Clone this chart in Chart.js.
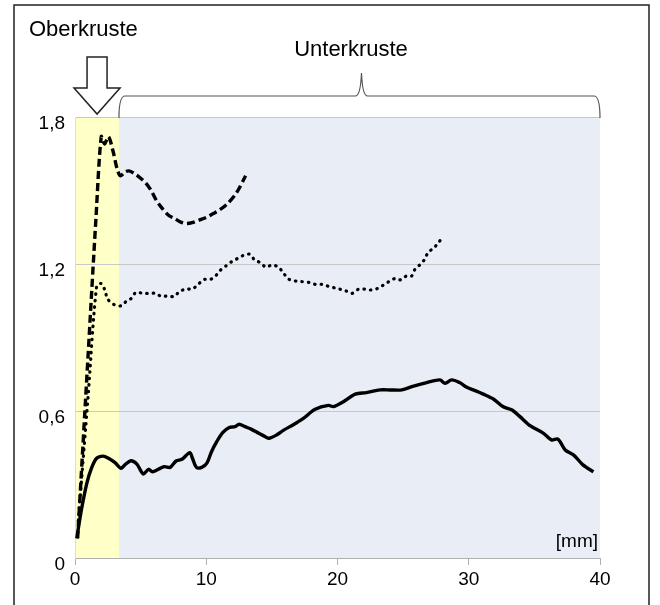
<!DOCTYPE html>
<html>
<head>
<meta charset="utf-8">
<title>Oberkruste / Unterkruste</title>
<script src="https://cdn.jsdelivr.net/npm/chart.js@4.4.1/dist/chart.umd.min.js"></script>
<style>
  html, body { margin: 0; padding: 0; background: #fff; }
  #wrap { position: relative; width: 660px; height: 605px; }
</style>
</head>
<body>
<div id="wrap"><canvas id="crust-chart"></canvas></div>
<script>
// Values (x in mm)
const xTickLabels = ['0', '10', '20', '30', '40'];
const yTickLabels = ['0', '0,6', '1,2', '1,8'];

// dashed curve
const dashedX = [0.2, 1.0, 1.6, 2.0, 2.25, 2.55, 2.9, 3.2, 3.45, 3.8, 4.1, 4.5, 5.0, 5.4, 5.8, 6.2, 6.6, 7.1, 7.6, 8.1, 8.5, 9.0, 9.5, 10.0, 10.5, 11.0, 11.6, 12.3, 13.0];
const dashedY = [0.08, 0.83, 1.39, 1.72, 1.69, 1.72, 1.66, 1.59, 1.56, 1.575, 1.58, 1.57, 1.55, 1.53, 1.50, 1.46, 1.43, 1.40, 1.385, 1.37, 1.365, 1.37, 1.38, 1.39, 1.405, 1.42, 1.445, 1.49, 1.56];

// dotted curve
const dottedX = [0.25, 1.0, 1.65, 2.0, 2.3, 2.45, 2.8, 3.2, 3.55, 3.95, 4.3, 4.65, 5.15, 5.65, 6.15, 6.6, 7.05, 7.55, 7.95, 8.45, 8.95, 9.4, 9.85, 10.3, 10.7, 11.1, 11.5, 11.95, 12.4, 12.9, 13.3, 13.7, 14.15, 14.55, 15.0, 15.5, 15.9, 16.25, 16.75, 17.25, 17.8, 18.3, 18.8, 19.25, 19.75, 20.2, 20.65, 21.1, 21.6, 22.1, 22.55, 23.05, 23.5, 23.95, 24.4, 24.8, 25.25, 25.65, 25.9, 26.3, 26.65, 26.9, 27.3, 27.7, 28.0];
const dottedY = [0.15, 0.66, 1.11, 1.12, 1.09, 1.06, 1.04, 1.03, 1.03, 1.05, 1.06, 1.085, 1.08, 1.08, 1.08, 1.067, 1.07, 1.067, 1.087, 1.098, 1.098, 1.118, 1.137, 1.137, 1.151, 1.176, 1.192, 1.21, 1.223, 1.237, 1.24, 1.216, 1.205, 1.187, 1.196, 1.187, 1.162, 1.139, 1.131, 1.128, 1.125, 1.117, 1.117, 1.11, 1.103, 1.097, 1.09, 1.08, 1.097, 1.097, 1.094, 1.1, 1.114, 1.129, 1.141, 1.135, 1.151, 1.151, 1.178, 1.198, 1.22, 1.247, 1.264, 1.287, 1.312];

// solid curve
const solidX = [0.13, 0.5, 0.9, 1.25, 1.65, 2.15, 2.55, 3.05, 3.5, 3.8, 4.25, 4.7, 5.2, 5.6, 5.9, 6.35, 6.8, 7.25, 7.7, 8.15, 8.75, 8.95, 9.25, 9.65, 10.05, 10.4, 10.8, 11.25, 11.75, 12.2, 12.5, 12.95, 13.45, 14.0, 14.5, 14.8, 15.35, 15.9, 16.6, 17.4, 18.3, 19.3, 19.7, 20.45, 21.35, 22.2, 23.25, 24.0, 24.9, 25.8, 26.8, 27.8, 28.2, 28.7, 29.3, 29.85, 30.35, 31.1, 31.9, 32.6, 33.3, 33.9, 34.7, 35.7, 36.3, 36.8, 37.35, 38.0, 38.7, 39.5];
const solidY = [0.08, 0.20, 0.305, 0.366, 0.407, 0.416, 0.407, 0.389, 0.366, 0.38, 0.397, 0.384, 0.343, 0.362, 0.352, 0.362, 0.373, 0.37, 0.396, 0.403, 0.43, 0.407, 0.37, 0.37, 0.387, 0.434, 0.475, 0.512, 0.533, 0.536, 0.546, 0.536, 0.525, 0.509, 0.495, 0.489, 0.502, 0.522, 0.543, 0.57, 0.607, 0.623, 0.618, 0.638, 0.669, 0.675, 0.686, 0.686, 0.686, 0.702, 0.716, 0.727, 0.713, 0.727, 0.716, 0.697, 0.686, 0.669, 0.648, 0.618, 0.604, 0.577, 0.539, 0.509, 0.482, 0.485, 0.441, 0.42, 0.38, 0.352];

// boundary between Oberkruste and Unterkruste (mm)
const crustBoundary = 3.35;

const FONT = '"Liberation Sans", Arial, sans-serif';

function toPoints(xs, ys) {
    return xs.map((x, i) => ({ x: x, y: ys[i] }));
}

// yellow / blue background zones
const zonesPlugin = {
    id: 'zones',
    beforeDraw(chart) {
        const { ctx, chartArea, scales: { x } } = chart;
        const edge = x.getPixelForValue(crustBoundary);
        ctx.save();
        ctx.fillStyle = '#ffffc8';
        ctx.fillRect(chartArea.left, chartArea.top, edge - chartArea.left, chartArea.bottom - chartArea.top);
        ctx.fillStyle = '#e8edf6';
        ctx.fillRect(edge, chartArea.top, chartArea.right - edge, chartArea.bottom - chartArea.top);
        ctx.restore();
    }
};

// frame, labels, arrow and brace
const notesPlugin = {
    id: 'notes',
    afterDraw(chart) {
        const { ctx, chartArea, scales: { x } } = chart;
        ctx.save();

        // outer frame (open at the bottom)
        ctx.strokeStyle = '#222';
        ctx.lineWidth = 1.5;
        ctx.beginPath();
        ctx.moveTo(14, 606);
        ctx.lineTo(14, 5);
        ctx.lineTo(649, 5);
        ctx.lineTo(649, 606);
        ctx.stroke();

        ctx.fillStyle = '#000';
        ctx.textBaseline = 'middle';
        ctx.font = '22px ' + FONT;
        ctx.textAlign = 'left';
        ctx.fillText('Oberkruste', 29, 30);
        ctx.textAlign = 'center';
        ctx.fillText('Unterkruste', 351, 50);

        ctx.font = '19px ' + FONT;
        ctx.textAlign = 'right';
        ctx.fillText('[mm]', chartArea.right - 2, chartArea.bottom - 16);

        // hollow arrow pointing at the Oberkruste zone
        const ax = x.getPixelForValue(1.68);
        ctx.fillStyle = '#fff';
        ctx.strokeStyle = '#222';
        ctx.lineWidth = 1.5;
        ctx.beginPath();
        ctx.moveTo(ax - 10, 57);
        ctx.lineTo(ax + 10, 57);
        ctx.lineTo(ax + 10, 88);
        ctx.lineTo(ax + 23, 88);
        ctx.lineTo(ax, 114);
        ctx.lineTo(ax - 23, 88);
        ctx.lineTo(ax - 10, 88);
        ctx.closePath();
        ctx.fill();
        ctx.stroke();

        // curly brace over the Unterkruste zone
        const left = x.getPixelForValue(crustBoundary);
        const right = chartArea.right;
        const mid = (left + right) / 2 + 2;
        const low = chartArea.top + 1, bar = 96, tip = 73;
        ctx.strokeStyle = '#555';
        ctx.lineWidth = 1.2;
        ctx.beginPath();
        ctx.moveTo(left, low);
        ctx.quadraticCurveTo(left, bar, left + 6, bar);
        ctx.lineTo(mid - 6, bar);
        ctx.quadraticCurveTo(mid - 1, bar, mid, tip);
        ctx.quadraticCurveTo(mid + 1, bar, mid + 6, bar);
        ctx.lineTo(right - 6, bar);
        ctx.quadraticCurveTo(right, bar, right, low);
        ctx.stroke();

        ctx.restore();
    }
};

const ctx = document.getElementById('crust-chart').getContext('2d');
new Chart(ctx, {
    type: 'line',
    data: {
        datasets: [{
            label: 'gestrichelt',
            data: toPoints(dashedX, dashedY),
            borderColor: '#000',
            borderWidth: 3.4,
            borderDash: [8, 4],
            tension: 0.3
        }, {
            label: 'gepunktet',
            data: toPoints(dottedX, dottedY),
            borderColor: '#000',
            borderWidth: 3.2,
            borderDash: [0.5, 6],
            borderCapStyle: 'round',
            tension: 0.3
        }, {
            label: 'durchgezogen',
            data: toPoints(solidX, solidY),
            borderColor: '#000',
            borderWidth: 3.4,
            tension: 0.3
        }]
    },
    options: {
        responsive: true,
        maintainAspectRatio: false,
        animation: false,
        elements: { point: { radius: 0 } },
        layout: { padding: { top: 117, right: 60, left: 0, bottom: 0 } },
        plugins: {
            legend: { display: false },
            tooltip: { enabled: false }
        },
        scales: {
            x: {
                type: 'linear',
                min: 0,
                max: 40,
                ticks: {
                    stepSize: 10,
                    padding: 3,
                    color: '#000',
                    font: { family: FONT, size: 19 },
                    callback: (v, i) => xTickLabels[i]
                },
                grid: { drawOnChartArea: false, drawTicks: true, tickLength: 7, color: '#b0b0b0' },
                border: { display: true, color: '#b0b0b0' },
                afterFit(scale) { scale.height = 47; }
            },
            y: {
                min: 0,
                max: 1.8,
                ticks: {
                    stepSize: 0.6,
                    padding: 10,
                    labelOffset: 7,
                    color: '#000',
                    font: { family: FONT, size: 19 },
                    callback: (v, i) => yTickLabels[i]
                },
                grid: { drawTicks: false, color: '#c8c8c8' },
                border: { display: true, color: '#e0e0c0' },
                afterFit(scale) { scale.width = 75; }
            }
        }
    },
    plugins: [zonesPlugin, notesPlugin]
});
</script>
</body>
</html>
